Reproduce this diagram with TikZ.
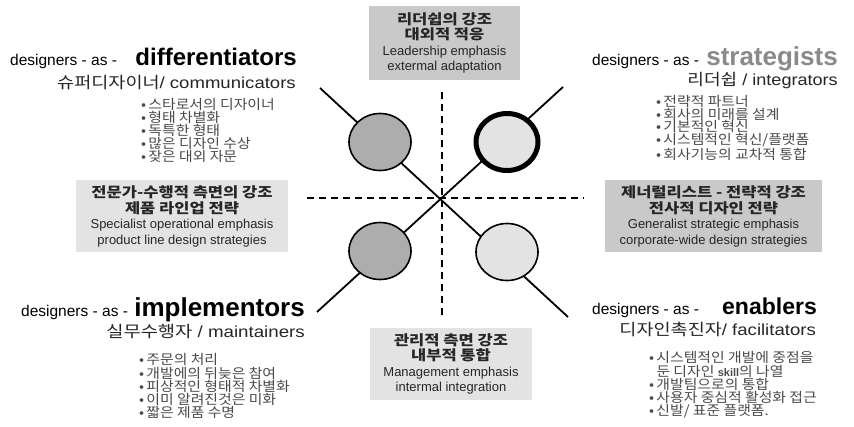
\documentclass[tikz,border=0pt]{standalone}
\usepackage{fontspec}
\setmainfont{Liberation Sans}
\newfontfamily\kr{Noto Sans CJK KR}
\newfontfamily\krw[FakeStretch=1.1]{Noto Sans CJK KR}
\newfontfamily\krbox[FakeStretch=1.18]{Noto Sans CJK KR}
\usetikzlibrary{shapes.geometric}
\definecolor{circdark}{HTML}{ADADAD}
\definecolor{circlight}{HTML}{E3E3E3}
\definecolor{boxdarkc}{HTML}{C9C9C9}
\definecolor{boxlightc}{HTML}{E3E3E3}
\definecolor{bodygray}{HTML}{4A4A4A}
\definecolor{stratgray}{HTML}{8A8A8A}
\tikzset{
  dashline/.style={line width=2pt, dash pattern=on 7pt off 5pt},
  diagline/.style={line width=1.8pt},
  ovaldisc/.style={shape=ellipse, draw=black, line width=1.6pt, minimum width=62pt, minimum height=57pt, inner sep=0pt},
  darkdisc/.style={ovaldisc, fill=circdark},
  lightdisc/.style={ovaldisc, fill=circlight},
  infobox/.style={inner sep=0pt, align=center, text=black!85,
    font=\fontsize{13}{15.5}\selectfont},
  titleprefix/.style={inner sep=0pt, anchor=base west, font=\fontsize{15.5}{18}\selectfont},
  bigword/.style={inner sep=0pt, anchor=base east, font=\fontsize{24}{26}\selectfont\bfseries},
  subline/.style={inner sep=0pt, anchor=base east, text=black!85, font=\fontsize{16}{18}\selectfont},
  bulletlist/.style={inner sep=0pt, anchor=north west, align=left, text=bodygray,
    font=\krw\fontsize{13.5}{13}\selectfont},
}
\newcommand{\krb}[1]{{\krbox\bfseries\fontsize{14}{15.5}\selectfont #1}}
\begin{document}
\begin{tikzpicture}[x=1pt,y=-1pt]
\useasboundingbox (0,0) rectangle (854,426);
\fill[white] (0,0) rectangle (854,426);

% axes
\coordinate (vtop) at (441.5,92);
\coordinate (vbot) at (441.5,317);
\coordinate (hleft) at (307,198);
\coordinate (hright) at (584,198);
\draw[dashline] (vtop) -- (vbot);
\draw[dashline] (hleft) -- (hright);

% diagonals
\coordinate (tlend) at (320,88);
\coordinate (brend) at (568,317);
\coordinate (trend) at (563,87);
\coordinate (blend) at (317,312);
\draw[diagline] (tlend) -- (brend);
\draw[diagline] (trend) -- (blend);

% discs
\node[darkdisc] (dtl) at (380,142) {};
\node[lightdisc, line width=5pt] (dtr) at (507,142) {};
\node[darkdisc] (dbl) at (380,251) {};
\node[lightdisc] (dbr) at (507,252) {};

% info boxes
\node[infobox, fill=boxdarkc, minimum width=151pt, minimum height=74pt] (topbox) at (444.5,43)
  {\krb{리더쉽의 강조}\\ \krb{대외적 적응}\\ Leadership emphasis\\ extermal adaptation};
\node[infobox, fill=boxlightc, minimum width=212pt, minimum height=72pt] (leftbox) at (182,216.3)
  {\krb{전문가-수행적 측면의 강조}\\ \krb{제품 라인업 전략}\\ Specialist operational emphasis\\ product line design strategies};
\node[infobox, fill=boxdarkc, minimum width=217pt, minimum height=72pt] (rightbox) at (713.5,216.3)
  {\krb{제너럴리스트 - 전략적 강조}\\ \krb{전사적 디자인 전략}\\ Generalist strategic emphasis\\ corporate-wide design strategies};
\node[infobox, fill=boxlightc, minimum width=162pt, minimum height=72pt] (botbox) at (451,364)
  {\krb{관리적 측면 강조}\\ \krb{내부적 통합}\\ Management emphasis\\ intermal integration};

% top-left quadrant
\node[titleprefix] (tlpre) at (10,65) {designers - as -};
\node[bigword] (tlbig) at (297,65) {differentiators};
\node[subline] (tlsub) at (296,88) {\scalebox{1.16}[1]{{\kr 슈퍼디자이너}/ communicators}};
\node[bulletlist] (tllist) at (141,98.5) {•\,스타로서의 디자이너\\ •\,형태 차별화\\ •\,독특한 형태\\ •\,많은 디자인 수상\\ •\,잦은 대외 자문};

% top-right quadrant
\node[titleprefix] (trpre) at (592,65) {designers - as -};
\node[bigword, text=stratgray, font=\fontsize{26}{28}\selectfont\bfseries] (trbig) at (838,65) {strategists};
\node[subline] (trsub) at (838,85) {\scalebox{1.13}[1]{{\kr 리더쉽} / integrators}};
\node[bulletlist, font=\krw\fontsize{13.5}{12.5}\selectfont] (trlist) at (656,95.5) {•\,전략적 파트너\\ •\,회사의 미래를 설계\\ •\,기본적인 혁신\\ •\,시스템적인 혁신/플랫폼\\ •\,회사기능의 교차적 통합};

% bottom-left quadrant
\node[titleprefix] (blpre) at (21,316) {designers - as -};
\node[bigword, font=\fontsize{26}{28}\selectfont\bfseries] (blbig) at (305,316) {implementors};
\node[subline] (blsub) at (305,337) {\scalebox{1.17}[1]{{\kr 실무수행자} / maintainers}};
\node[bulletlist, font=\krw\fontsize{13.5}{11.8}\selectfont] (bllist) at (139,353.5) {•\,주문의 처리\\ •\,개발에의 뒤늦은 참여\\ •\,피상적인 형태적 차별화\\ •\,이미 알려진것은 미화\\ •\,짧은 제품 수명};

% bottom-right quadrant
\node[titleprefix] (brpre) at (592,314) {designers - as -};
\node[bigword, font=\fontsize{23}{25}\selectfont\bfseries] (brbig) at (817,314) {enablers};
\node[subline] (brsub) at (816,335) {\scalebox{1.16}[1]{{\kr 디자인촉진자}/ facilitators}};
\node[bulletlist, font=\krw\fontsize{13.5}{11.8}\selectfont] (brlist) at (649,351.5) {•\,시스템적인 개발에 중점을\\ \phantom{•\,}둔 디자인 {\rmfamily\bfseries\fontsize{11}{11.8}\selectfont skill}의 나열\\ •\,개발팀으로의 통합\\ •\,사용자 중심적 활성화 접근\\ •\,신발/ 표준 플랫폼.};
\end{tikzpicture}
\end{document}
